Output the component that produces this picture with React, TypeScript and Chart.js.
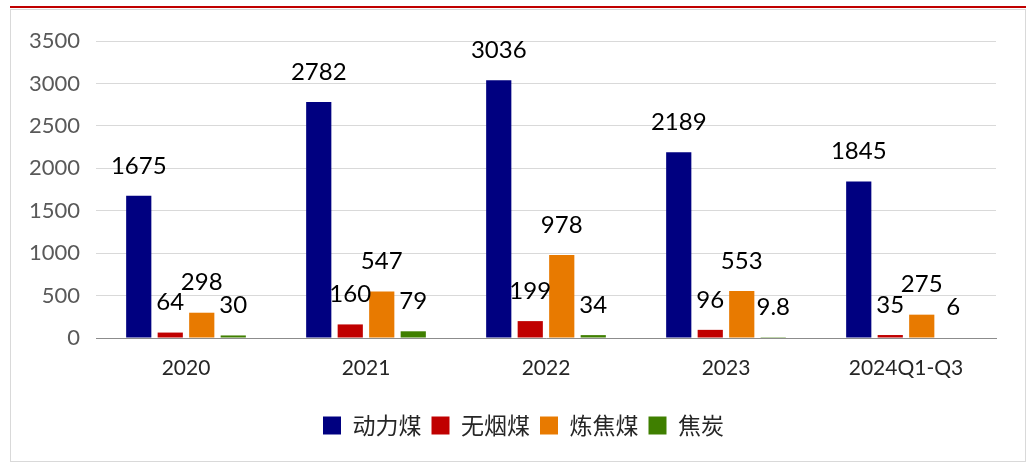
import React, { useEffect, useRef } from "react";
import { Chart, registerables } from "chart.js";

Chart.register(...registerables);

const categories = ["2020", "2021", "2022", "2023", "2024Q1-Q3"];
const seriesNames = ["动力煤", "无烟煤", "炼焦煤", "焦炭"];
const thermalCoal = [1675, 2782, 3036, 2189, 1845];
const anthracite = [64, 160, 199, 96, 35];
const cokingCoal = [298, 547, 978, 553, 275];
const coke = [30, 79, 34, 9.8, 6];
const yTicks = [0, 500, 1000, 1500, 2000, 2500, 3000, 3500];

const colors = ["#000080", "#C00000", "#E87A00", "#3F7F00"];

const labelPlugin = {
  id: "barLabels",
  afterDatasetsDraw(chart: any) {
    const ctx = chart.ctx;
    ctx.save();
    ctx.font = "24px Lato, 'Open Sans', sans-serif";
    ctx.fillStyle = "#000000";
    ctx.textAlign = "center";
    ctx.textBaseline = "middle";
    chart.data.datasets.forEach((ds: any, i: number) => {
      const meta = chart.getDatasetMeta(i);
      meta.data.forEach((bar: any, j: number) => {
        ctx.fillText(String(ds.data[j]), bar.x, bar.y - 30);
      });
    });
    ctx.restore();
  },
};

const legendShift = {
  id: "legendShift",
  afterLayout(chart: any) {
    const l = chart.legend;
    if (l) {
      l.left += 20;
      l.right += 20;
    }
  },
};

export default function App() {
  const ref = useRef<HTMLCanvasElement | null>(null);

  useEffect(() => {
    if (!ref.current) return;
    const data = [thermalCoal, anthracite, cokingCoal, coke];
    const chart = new Chart(ref.current, {
      type: "bar",
      data: {
        labels: categories,
        datasets: seriesNames.map((name, i) => ({
          label: name,
          data: data[i],
          backgroundColor: colors[i],
          borderWidth: 0,
          categoryPercentage: 0.7,
          barPercentage: 0.8,
        })),
      },
      options: {
        animation: false,
        responsive: false,
        maintainAspectRatio: false,
        layout: { padding: { top: 31, right: 29, bottom: 14, left: 0 } },
        plugins: {
          legend: {
            position: "bottom",
            labels: {
              boxWidth: 18,
              boxHeight: 18,
              padding: 10,
              color: "#262626",
              font: { size: 23, family: "'Noto Sans CJK SC', sans-serif" },
            },
          },
          tooltip: { enabled: false },
        },
        scales: {
          x: {
            grid: { display: false, drawTicks: false },
            border: { display: true, color: "#8c8c8c", width: 1 },
            ticks: {
              color: "#262626",
              padding: 18,
              font: { size: 21, family: "Lato, 'Open Sans', sans-serif" },
            },
            afterFit(scale: any) {
              scale.height = 66;
            },
          },
          y: {
            min: 0,
            max: 3500,
            grid: { color: "#d9d9d9", drawTicks: false },
            border: { display: false },
            afterBuildTicks(scale: any) {
              scale.ticks = yTicks.map((v) => ({ value: v }));
            },
            ticks: {
              color: "#595959",
              padding: 16,
              font: { size: 22, family: "Lato, 'Open Sans', sans-serif" },
              callback: (v: any) => String(v),
            },
            afterFit(scale: any) {
              scale.width = 85;
            },
          },
        },
      },
      plugins: [labelPlugin, legendShift],
    });
    return () => chart.destroy();
  }, []);

  return (
    <div style={{ position: "absolute", left: 0, top: 0, width: 1034, height: 465, background: "#ffffff" }}>
      <div style={{ position: "absolute", left: 10, top: 6, width: 1016, height: 2, background: "#c00000" }} />
      <div
        style={{
          position: "absolute",
          left: 10,
          top: 9,
          width: 1016,
          height: 453,
          border: "1px solid #d9d9d9",
          boxSizing: "border-box",
        }}
      >
        <canvas ref={ref} width={1014} height={451} style={{ display: "block" }} />
      </div>
    </div>
  );
}
